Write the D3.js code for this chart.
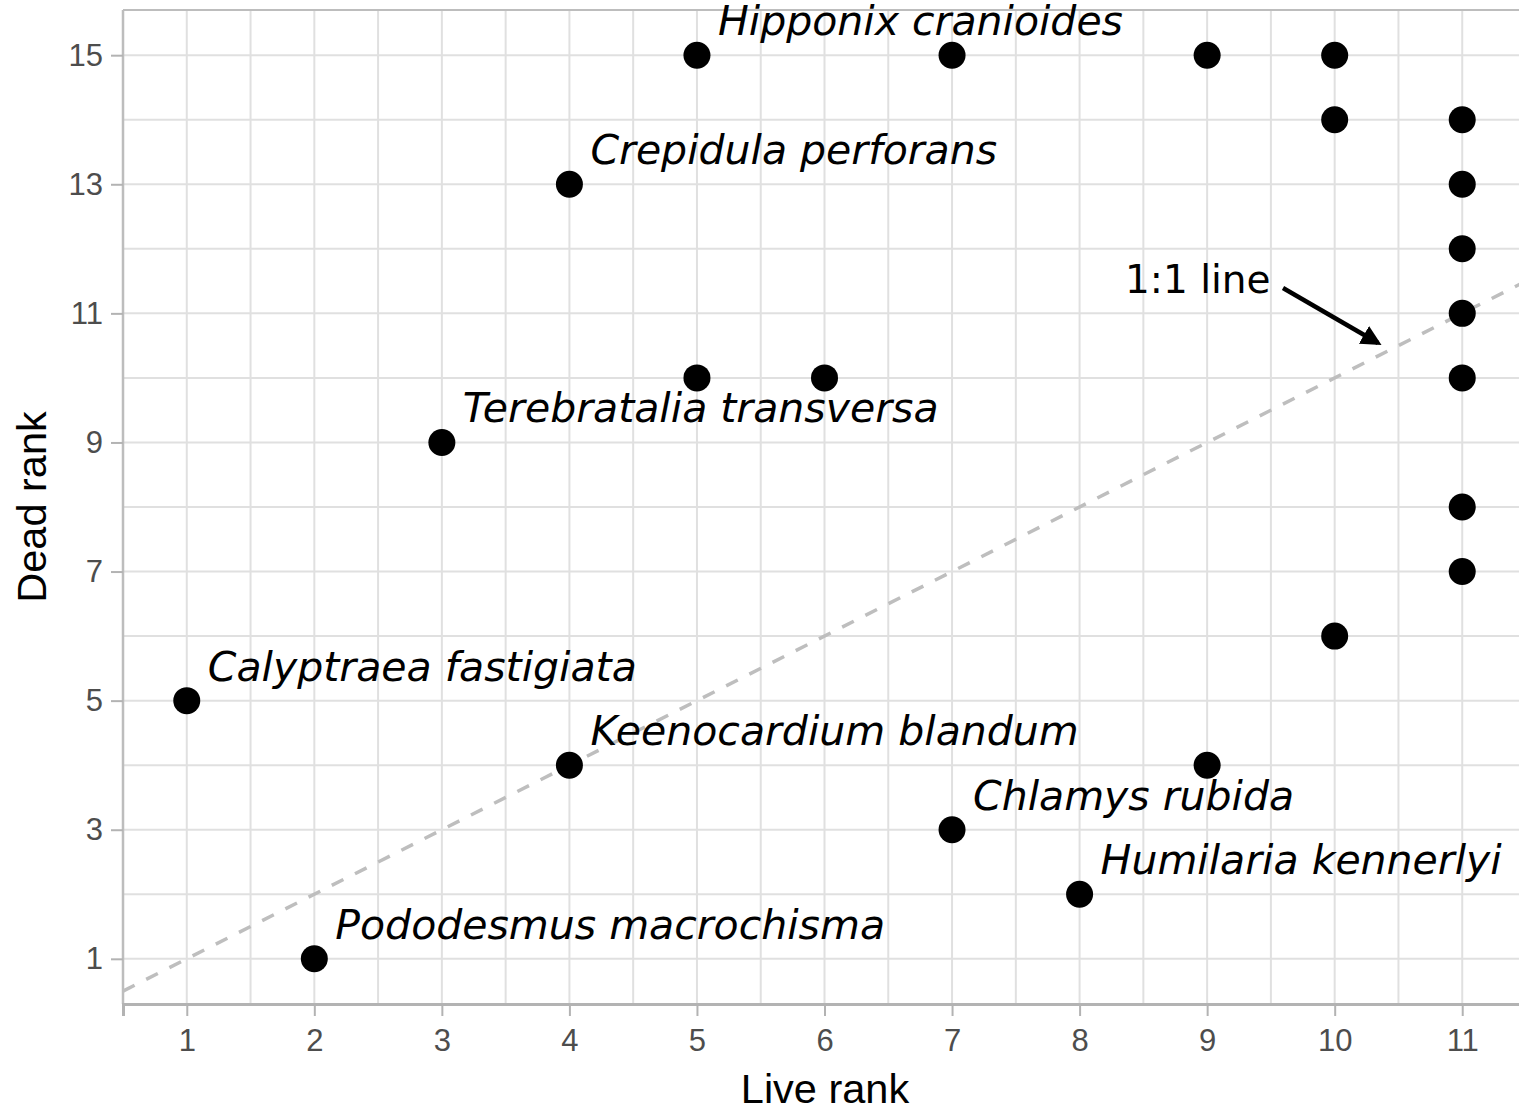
<!DOCTYPE html>
<html>
<head>
<meta charset="utf-8">
<script src="https://cdn.jsdelivr.net/npm/d3@7"></script>
<style>
  body { margin: 0; background: #fff; }
  svg { display: block; }
</style>
</head>
<body>
<div id="chart"></div>
<script>
// Live vs dead rank of each taxon
const liveRank = [5, 7, 9, 10, 10, 11, 4, 11, 11, 11, 5, 6, 11, 3, 11, 11, 10, 1, 4, 9, 7, 8, 2];
const deadRank = [15, 15, 15, 15, 14, 14, 13, 13, 12, 11, 10, 10, 10, 9, 8, 7, 6, 5, 4, 4, 3, 2, 1];

// labelled taxa, pointing into the arrays above
const labelNames = [
    'Hipponix cranioides', 'Crepidula perforans', 'Terebratalia transversa',
    'Calyptraea fastigiata', 'Keenocardium blandum', 'Chlamys rubida',
    'Humilaria kennerlyi', 'Pododesmus macrochisma'
];
const labelIndex = [0, 6, 13, 17, 18, 20, 21, 22];

const xTicks = [1, 2, 3, 4, 5, 6, 7, 8, 9, 10, 11];
const yTicks = [1, 3, 5, 7, 9, 11, 13, 15];
const yMinor = [2, 4, 6, 8, 10, 12, 14];
const xMinor = [1.5, 2.5, 3.5, 4.5, 5.5, 6.5, 7.5, 8.5, 9.5, 10.5];

const width = 1519, height = 1111;
const pLeft = 123, pTop = 10, pRight = 1526, pBottom = 1004;
const labelFont = 'DejaVu Sans, Verdana, sans-serif';

const svg = d3.select('#chart')
    .append('svg')
    .attr('width', width)
    .attr('height', height);

const x = d3.scaleLinear().domain([0.5, 11.5]).range([pLeft, pRight]);
const y = d3.scaleLinear().domain([0.3, 15.7]).range([pBottom, pTop]);

// grid
const grid = svg.append('g');
xMinor.concat(xTicks).forEach(v => {
    grid.append('line')
        .attr('x1', x(v)).attr('x2', x(v))
        .attr('y1', pTop).attr('y2', pBottom)
        .style('stroke', '#e0e0e0')
        .style('stroke-width', 2);
});
yMinor.concat(yTicks).forEach(v => {
    grid.append('line')
        .attr('x1', pLeft).attr('x2', pRight)
        .attr('y1', y(v)).attr('y2', y(v))
        .style('stroke', '#e0e0e0')
        .style('stroke-width', 2);
});

// panel border (top and left), bottom axis line
svg.append('line')
    .attr('x1', pLeft).attr('x2', pRight).attr('y1', pTop).attr('y2', pTop)
    .style('stroke', '#bdbdbd').style('stroke-width', 2);
svg.append('line')
    .attr('x1', pLeft).attr('x2', pLeft).attr('y1', pTop).attr('y2', pBottom)
    .style('stroke', '#bdbdbd').style('stroke-width', 2.5);

// axes
const xAxis = svg.append('g')
    .attr('transform', `translate(0,${pBottom})`)
    .call(d3.axisBottom(x).tickValues(xTicks).tickSize(12).tickPadding(13));
const yAxis = svg.append('g')
    .attr('transform', `translate(${pLeft},0)`)
    .call(d3.axisLeft(y).tickValues(yTicks).tickSize(12).tickPadding(8));

[xAxis, yAxis].forEach(a => {
    a.selectAll('.tick line').style('stroke', '#b3b3b3').style('stroke-width', 2);
    a.selectAll('.tick text')
        .style('font-family', 'Liberation Sans, Arial, sans-serif')
        .style('font-size', '31px')
        .style('fill', '#4d4d4d');
});
xAxis.select('.domain').style('stroke', '#b3b3b3').style('stroke-width', 3);
yAxis.select('.domain').remove();

// 1:1 line
svg.append('line')
    .attr('x1', x(0.5)).attr('y1', y(0.5))
    .attr('x2', x(11.5)).attr('y2', y(11.5))
    .style('stroke', '#bebebe')
    .style('stroke-width', 3.5)
    .style('stroke-dasharray', '13,13');

// points
svg.append('g')
    .selectAll('circle')
    .data(liveRank)
    .join('circle')
    .attr('cx', d => x(d))
    .attr('cy', (d, i) => y(deadRank[i]))
    .attr('r', 13.5)
    .style('fill', '#000');

// species labels
svg.append('g')
    .selectAll('text')
    .data(labelNames)
    .join('text')
    .attr('x', (d, i) => x(liveRank[labelIndex[i]]) + 21)
    .attr('y', (d, i) => y(deadRank[labelIndex[i]]) - 20)
    .style('font-family', labelFont)
    .style('font-style', 'italic')
    .style('font-size', '41px')
    .style('fill', '#000')
    .text(d => d);

// annotation
svg.append('defs').append('marker')
    .attr('id', 'arrow')
    .attr('viewBox', '0 0 10 10')
    .attr('refX', 8).attr('refY', 5)
    .attr('markerWidth', 4.5).attr('markerHeight', 4.5)
    .attr('markerUnits', 'strokeWidth')
    .attr('orient', 'auto')
    .append('path')
    .attr('d', 'M0,0 L10,5 L0,10 Z')
    .style('fill', '#000');

svg.append('line')
    .attr('x1', 1283).attr('y1', 288)
    .attr('x2', 1378).attr('y2', 343)
    .style('stroke', '#000')
    .style('stroke-width', 4.5)
    .attr('marker-end', 'url(#arrow)');

svg.append('text')
    .attr('x', 1125).attr('y', 293)
    .style('font-family', labelFont)
    .style('font-size', '39px')
    .style('fill', '#000')
    .text('1:1 line');

// axis titles
svg.append('text')
    .attr('x', (pLeft + 1519) / 2 + 4)
    .attr('y', 1103)
    .attr('text-anchor', 'middle')
    .style('font-family', 'Liberation Sans, Arial, sans-serif')
    .style('font-size', '41.5px')
    .style('fill', '#000')
    .text('Live rank');

svg.append('text')
    .attr('transform', `translate(46,${(pTop + pBottom) / 2}) rotate(-90)`)
    .attr('text-anchor', 'middle')
    .style('font-family', 'Liberation Sans, Arial, sans-serif')
    .style('font-size', '41.5px')
    .style('fill', '#000')
    .text('Dead rank');
</script>
</body>
</html>
